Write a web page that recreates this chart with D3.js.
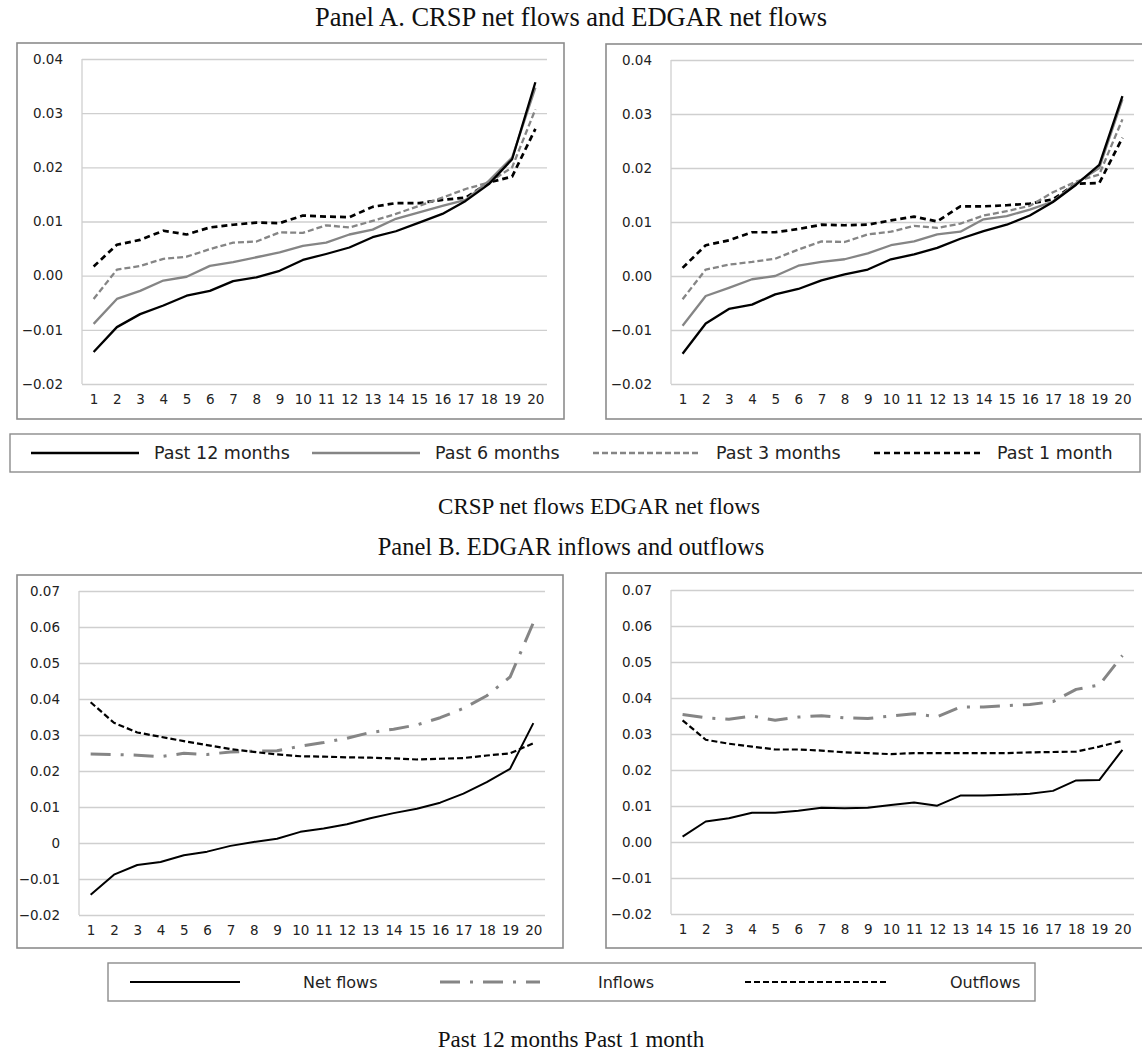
<!DOCTYPE html>
<html>
<head>
<meta charset="utf-8">
<script src="https://cdn.jsdelivr.net/npm/d3@7"></script>
<style>
  body { margin: 0; background: #fff; }
  svg { display: block; }
  .tick text { font-family: "DejaVu Sans", sans-serif; font-size: 13.5px; fill: #222; }
  .serif { font-family: "Liberation Serif", "Times New Roman", serif; font-size: 24px; fill: #111; }
  .legtext { font-family: "DejaVu Sans", sans-serif; font-size: 17.5px; fill: #222; }
  .legtextB { font-family: "DejaVu Sans", sans-serif; font-size: 16px; fill: #222; }
</style>
</head>
<body>
<svg id="chart" width="1142" height="1059"></svg>
<script>
// deciles on the x axis
var deciles = [1,2,3,4,5,6,7,8,9,10,11,12,13,14,15,16,17,18,19,20];

// Panel A, CRSP net flows
var crsp12 = [-0.0141,-0.0095,-0.0071,-0.0055,-0.0037,-0.0028,-0.0010,-0.0003,0.0009,0.0029,0.0040,0.0052,0.0071,0.0082,0.0098,0.0114,0.0138,0.0169,0.0215,0.0357];
var crsp6  = [-0.0089,-0.0043,-0.0028,-0.0009,-0.0002,0.0018,0.0025,0.0034,0.0043,0.0055,0.0061,0.0076,0.0085,0.0105,0.0117,0.0129,0.0140,0.0175,0.0218,0.0347];
var crsp3  = [-0.0043,0.0011,0.0018,0.0031,0.0035,0.0049,0.0061,0.0063,0.0080,0.0079,0.0093,0.0089,0.0101,0.0114,0.0129,0.0144,0.0160,0.0172,0.0200,0.0307];
var crsp1  = [0.0017,0.0057,0.0066,0.0083,0.0076,0.0089,0.0094,0.0098,0.0097,0.0111,0.0109,0.0108,0.0127,0.0134,0.0134,0.0140,0.0144,0.0172,0.0183,0.0271];

// Panel A, EDGAR net flows
var edgar12 = [-0.0144,-0.0088,-0.0061,-0.0053,-0.0034,-0.0024,-0.0008,0.0003,0.0012,0.0031,0.0040,0.0052,0.0069,0.0083,0.0095,0.0112,0.0137,0.0169,0.0206,0.0333];
var edgar6  = [-0.0092,-0.0037,-0.0022,-0.0006,0.0000,0.0019,0.0026,0.0031,0.0042,0.0057,0.0064,0.0077,0.0082,0.0105,0.0111,0.0123,0.0138,0.0172,0.0200,0.0327];
var edgar3  = [-0.0043,0.0012,0.0021,0.0026,0.0032,0.0049,0.0064,0.0063,0.0077,0.0082,0.0093,0.0089,0.0097,0.0112,0.0120,0.0130,0.0155,0.0175,0.0188,0.0290];
var edgar1  = [0.0015,0.0057,0.0066,0.0081,0.0081,0.0087,0.0095,0.0094,0.0095,0.0103,0.0110,0.0101,0.0129,0.0129,0.0131,0.0134,0.0142,0.0171,0.0172,0.0256];

// Panel B, EDGAR inflows and outflows (net flows are the EDGAR series above)
var inflows12  = [0.0247,0.0246,0.0244,0.0240,0.0249,0.0246,0.0253,0.0255,0.0256,0.0269,0.0279,0.0291,0.0307,0.0316,0.0328,0.0348,0.0374,0.0409,0.0461,0.0612];
var outflows12 = [0.0391,0.0334,0.0307,0.0295,0.0283,0.0272,0.0261,0.0253,0.0246,0.0241,0.0240,0.0238,0.0237,0.0235,0.0232,0.0234,0.0236,0.0243,0.0249,0.0277];
var inflows1   = [0.0354,0.0345,0.0341,0.0350,0.0338,0.0347,0.0351,0.0345,0.0343,0.0350,0.0356,0.0348,0.0375,0.0375,0.0379,0.0382,0.0390,0.0424,0.0436,0.0518];
var outflows1  = [0.0338,0.0284,0.0273,0.0265,0.0257,0.0257,0.0254,0.0249,0.0247,0.0244,0.0247,0.0247,0.0247,0.0247,0.0247,0.0249,0.0250,0.0251,0.0265,0.0281];

// tick values
var ticksA = [-0.02,-0.01,0.00,0.01,0.02,0.03,0.04];
var ticksB = [-0.02,-0.01,0.00,0.01,0.02,0.03,0.04,0.05,0.06,0.07];

// legend labels
var legendA = ["Past 12 months","Past 6 months","Past 3 months","Past 1 month"];
var legendB = ["Net flows","Inflows","Outflows"];

// line styles
var styles = {
    s12:    {stroke:"#000",    width:2.3, dash:null},
    s6:     {stroke:"#858585", width:2.3, dash:null},
    s3:     {stroke:"#858585", width:2.3, dash:"6,3"},
    s1:     {stroke:"#000",    width:2.7, dash:"6,4"},
    net:    {stroke:"#000",    width:2, dash:null},
    inflow: {stroke:"#858585", width:3,   dash:"20,10,3,10"},
    outflow:{stroke:"#000",    width:2.2, dash:"6,3"}
};

var svg = d3.select("#chart");

function fmt2(v){ return d3.format(".2f")(Math.abs(v) < 1e-9 ? 0 : v); }
function fmtZero(v){ return Math.abs(v) < 1e-9 ? "0" : d3.format(".2f")(v); }

function applyStyle(sel, st)
{
    sel.attr("fill","none")
        .attr("stroke", st.stroke)
        .attr("stroke-width", st.width)
        .attr("stroke-linejoin","round");
    if(st.dash) sel.attr("stroke-dasharray", st.dash);
}

//draws one chart with its box, gridlines and lines
function drawChart(cfg)
{
    var g = svg.append("g");

    g.append("rect")
        .attr("x", cfg.box[0]).attr("y", cfg.box[1])
        .attr("width", cfg.box[2]).attr("height", cfg.box[3])
        .attr("fill","none").attr("stroke","#8c8c8c").attr("stroke-width",1.6);

    var x = d3.scalePoint().domain(deciles).range([cfg.x0, cfg.x1]).padding(0.5);
    var y = d3.scaleLinear().domain(cfg.domain).range([cfg.y1, cfg.y0]);

    //gridlines + labels
    var yAxis = d3.axisLeft(y).tickValues(cfg.ticks).tickFormat(cfg.format)
        .tickSize(-(cfg.x1 - cfg.x0)).tickPadding(19);
    var ya = g.append("g").attr("transform","translate(" + cfg.x0 + ",0)").call(yAxis);
    ya.select(".domain").remove();
    ya.selectAll(".tick line").attr("stroke","#cfcfcf").attr("stroke-width",1.3);

    g.append("line")
        .attr("x1", cfg.x0).attr("x2", cfg.x0)
        .attr("y1", cfg.y0).attr("y2", cfg.y1)
        .attr("stroke","#cfcfcf").attr("stroke-width",1.3);

    var xAxis = d3.axisBottom(x).tickSize(0).tickPadding(10);
    var xa = g.append("g").attr("transform","translate(0," + cfg.y1 + ")").call(xAxis);
    xa.select(".domain").remove();

    var line = d3.line()
        .x(function(d,i){ return x(deciles[i]); })
        .y(function(d){ return y(d); });

    cfg.series.forEach(function(s){
        g.append("path").datum(s.values).attr("d", line).call(applyStyle, styles[s.style]);
    });
}

// titles
svg.append("text").attr("class","serif").attr("x",571).attr("y",26).attr("text-anchor","middle")
    .style("font-size","26.5px")
    .text("Panel A. CRSP net flows and EDGAR net flows");
svg.append("text").attr("class","serif").attr("x",599).attr("y",514).attr("text-anchor","middle")
    .style("font-size","23px")
    .text("CRSP net flows EDGAR net flows");
svg.append("text").attr("class","serif").attr("x",571).attr("y",555).attr("text-anchor","middle")
    .style("font-size","24.5px")
    .text("Panel B. EDGAR inflows and outflows");
svg.append("text").attr("class","serif").attr("x",571).attr("y",1047).attr("text-anchor","middle")
    .style("font-size","23px")
    .text("Past 12 months Past 1 month");

drawChart({box:[17,43,547,376], x0:82, x1:547, y0:59, y1:384, domain:[-0.02,0.04], ticks:ticksA, format:fmt2,
    series:[{values:crsp1,style:"s1"},{values:crsp3,style:"s3"},{values:crsp6,style:"s6"},{values:crsp12,style:"s12"}]});
drawChart({box:[606,44,545,375], x0:671, x1:1134, y0:60, y1:384, domain:[-0.02,0.04], ticks:ticksA, format:fmt2,
    series:[{values:edgar1,style:"s1"},{values:edgar3,style:"s3"},{values:edgar6,style:"s6"},{values:edgar12,style:"s12"}]});
drawChart({box:[17,575,546,373], x0:79, x1:545, y0:591, y1:915, domain:[-0.02,0.07], ticks:ticksB, format:fmtZero,
    series:[{values:inflows12,style:"inflow"},{values:outflows12,style:"outflow"},{values:edgar12,style:"net"}]});
drawChart({box:[606,573,545,375], x0:671, x1:1134, y0:590, y1:914, domain:[-0.02,0.07], ticks:ticksB, format:fmt2,
    series:[{values:inflows1,style:"inflow"},{values:outflows1,style:"outflow"},{values:edgar1,style:"net"}]});

// legend A
var legA = svg.append("g");
legA.append("rect").attr("x",10).attr("y",434).attr("width",1130).attr("height",38)
    .attr("fill","none").attr("stroke","#8c8c8c").attr("stroke-width",1.4);
var stylesA = ["s12","s6","s3","s1"];
legendA.forEach(function(name, i){
    var lx = 31 + i * 281;
    legA.append("line").attr("x1",lx).attr("x2",lx + 108).attr("y1",453).attr("y2",453)
        .call(applyStyle, styles[stylesA[i]]);
    legA.append("text").attr("class","legtext").attr("x",lx + 123).attr("y",459).text(name);
});

// legend B
var legB = svg.append("g");
legB.append("rect").attr("x",108).attr("y",963).attr("width",927).attr("height",38)
    .attr("fill","none").attr("stroke","#8c8c8c").attr("stroke-width",1.4);
var stylesB = ["net","inflow","outflow"];
var legBLine = [[130,240],[440,540],[745,888]];
var legBText = [303,598,950];
legendB.forEach(function(name, i){
    legB.append("line").attr("x1",legBLine[i][0]).attr("x2",legBLine[i][1]).attr("y1",982).attr("y2",982)
        .call(applyStyle, styles[stylesB[i]]);
    legB.append("text").attr("class","legtextB").attr("x",legBText[i]).attr("y",988).text(name);
});
</script>
</body>
</html>
